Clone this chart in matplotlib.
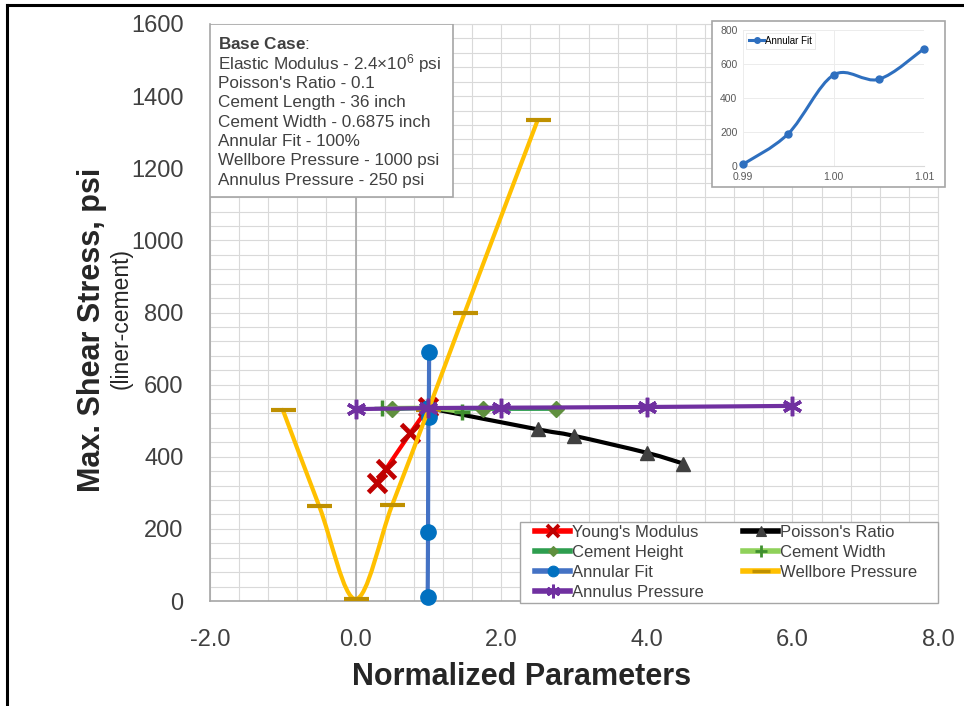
import numpy as np
import matplotlib
matplotlib.use("Agg")
import matplotlib.pyplot as plt
from matplotlib.path import Path
from matplotlib.patches import PathPatch, Rectangle
from matplotlib.lines import Line2D
from matplotlib.ticker import MultipleLocator, FormatStrFormatter

plt.rcParams['font.family'] = ['Liberation Sans', 'DejaVu Sans']
plt.rcParams['mathtext.fontset'] = 'custom'
plt.rcParams['mathtext.rm'] = 'Liberation Sans'
plt.rcParams['mathtext.it'] = 'Liberation Sans:italic'
plt.rcParams['mathtext.bf'] = 'Liberation Sans:bold'

# ---- data: normalized parameter vs. max shear stress (psi) ----
youngs_x = [0.29, 0.42, 0.75, 1.0]
youngs_y = [328, 367, 465, 537]

poisson_x = [1.0, 2.5, 3.0, 4.0, 4.5]
poisson_y = [535, 476, 458, 411, 381]

height_x = [0.5, 1.0, 1.75, 2.75]
height_y = [532, 535, 533, 533]

width_x = [0.364, 1.0, 1.455]
width_y = [535, 535, 524]

fit_x = [0.99, 0.995, 1.0, 1.005, 1.01]
fit_y = [10, 190, 535, 510, 690]

wellbore_x = [-1.0, -0.5, 0.0, 0.5, 1.0, 1.5, 2.5]
wellbore_y = [530, 263, 5, 265, 530, 800, 1333]

annulus_x = [0.0, 1.0, 2.0, 4.0, 6.0]
annulus_y = [532, 535, 536, 538, 541]

series_names = ["Young's Modulus", "Poisson's Ratio", "Cement Height", "Cement Width",
                "Annular Fit", "Wellbore Pressure", "Annulus Pressure"]

base_case_title = r"$\mathbf{Base\ Case}$:"
base_case_lines = [
    r"Elastic Modulus - 2.4$\times$10$^{6}$ psi",
    "Poisson's Ratio - 0.1",
    "Cement Length - 36 inch",
    "Cement Width - 0.6875 inch",
    "Annular Fit - 100%",
    "Wellbore Pressure - 1000 psi",
    "Annulus Pressure - 250 psi",
]

x_ticks = [-2.0, 0.0, 2.0, 4.0, 6.0, 8.0]
y_ticks = [0, 200, 400, 600, 800, 1000, 1200, 1400, 1600]


def smooth_path(x, y):
    """Bezier path through the points (smoothed-line style)."""
    pts = np.column_stack([x, y]).astype(float)
    n = len(pts)
    verts = [pts[0]]
    codes = [Path.MOVETO]
    for i in range(n - 1):
        p0 = pts[max(i - 1, 0)]
        p1 = pts[i]
        p2 = pts[i + 1]
        p3 = pts[min(i + 2, n - 1)]
        c1 = p1 + (p2 - p0) / 6.0
        c2 = p2 - (p3 - p1) / 6.0
        verts += [c1, c2, p2]
        codes += [Path.CURVE4] * 3
    return Path(verts, codes)


W, H = 964, 706
fig = plt.figure(figsize=(W / 100, H / 100), dpi=100)
fig.patch.set_facecolor('white')

ax = fig.add_axes([210 / W, 1 - 601 / H, 728 / W, 577 / H])
ax.set_xlim(-2, 8)
ax.set_ylim(0, 1600)

grid_c = '#d9d9d9'
ax.xaxis.set_major_locator(MultipleLocator(2))
ax.xaxis.set_minor_locator(MultipleLocator(0.4))
ax.yaxis.set_major_locator(MultipleLocator(200))
ax.yaxis.set_minor_locator(MultipleLocator(40))
ax.grid(which='both', color=grid_c, lw=0.8, zorder=0)
ax.set_axisbelow(True)
ax.xaxis.set_major_formatter(FormatStrFormatter('%.1f'))
ax.set_xticks(x_ticks)
ax.set_yticks(y_ticks)
ax.tick_params(which='both', length=0)
ax.tick_params(axis='both', labelsize=17, labelcolor='#404040')
ax.tick_params(axis='y', pad=19)
ax.tick_params(axis='x', pad=20)
for s in ['top', 'right']:
    ax.spines[s].set_color(grid_c)
    ax.spines[s].set_linewidth(0.8)
for s in ['left', 'bottom']:
    ax.spines[s].set_color('#a6a6a6')
    ax.spines[s].set_linewidth(1.2)
ax.axvline(0, color='#a6a6a6', lw=1.2, zorder=1)

styles = [
    dict(x=youngs_x, y=youngs_y, lc='#ff0000', mc='#c00000', marker='x', ms=13, mew=3.5),
    dict(x=poisson_x, y=poisson_y, lc='#000000', mc='#404040', marker='^', ms=10, mew=1),
    dict(x=height_x, y=height_y, lc='#2e9e4f', mc='#5f8f3e', marker='D', ms=8, mew=1),
    dict(x=width_x, y=width_y, lc='#8fd15a', mc='#3f8f2f', marker='+', ms=12, mew=2.5),
    dict(x=fit_x, y=fit_y, lc='#4472c4', mc='#0070c0', marker='o', ms=11, mew=1),
    dict(x=wellbore_x, y=wellbore_y, lc='#ffc000', mc='#bf9000', marker='_', ms=18, mew=3),
    dict(x=annulus_x, y=annulus_y, lc='#7030a0', mc='#7030a0', marker=(6, 2, 0), ms=14, mew=2.5),
]

handles = []
for k, (st, name) in enumerate(zip(styles, series_names)):
    z = 3 + k
    ax.add_patch(PathPatch(smooth_path(st['x'], st['y']), facecolor='none',
                           edgecolor=st['lc'], lw=3, zorder=z, capstyle='round'))
    ax.plot(st['x'], st['y'], ls='none', marker=st['marker'], ms=st['ms'],
            mfc=st['mc'], mec=st['mc'], mew=st['mew'], zorder=z + 0.5, clip_on=False)
    handles.append(Line2D([], [], color=st['lc'], lw=4, marker=st['marker'],
                          ms=st['ms'] * 0.7, mfc=st['mc'], mec=st['mc'],
                          mew=st['mew'] * 0.8, label=name))

# legend frame drawn separately so the side padding can be wider than the top/bottom
ax.add_patch(Rectangle(((520 - 210) / 728, (601 - 603) / 577), 418 / 728, 81 / 577,
                       transform=ax.transAxes, facecolor='white', edgecolor='#a6a6a6',
                       lw=1.0, zorder=19, clip_on=False))
order = [0, 2, 4, 6, 1, 3, 5]
leg = ax.legend([handles[i] for i in order], [series_names[i] for i in order],
                loc='upper left', bbox_to_anchor=(535 / W, 1 - 525 / H),
                bbox_transform=fig.transFigure, ncol=2,
                fontsize=12, frameon=False, borderpad=0, labelspacing=0.3,
                handlelength=2.1, handletextpad=0.1, columnspacing=2.4,
                borderaxespad=0)
for t in leg.get_texts():
    t.set_color('#404040')
leg.set_zorder(20)

# base case description box
ax.add_patch(Rectangle((0.0, (601 - 197) / 577), 243 / 728, 173 / 577,
                       transform=ax.transAxes, facecolor='white',
                       edgecolor='#a6a6a6', lw=1.2, zorder=15))
tx = 218 / W
fig.text(tx, 1 - 44 / H, base_case_title, fontsize=12.3, color='#404040',
         va='center', ha='left', zorder=16)
for i, line in enumerate(base_case_lines):
    fig.text(tx, 1 - (64 + i * 19.4) / H, line, fontsize=12.3, color='#404040',
             va='center', ha='left', zorder=16)

# axis titles
fig.text(522 / W, 1 - 677 / H, "Normalized Parameters", fontsize=22,
         fontweight='bold', color='#262626', ha='center', va='center')
fig.text(92 / W, 1 - 330 / H, "Max. Shear Stress, psi", fontsize=22,
         fontweight='bold', color='#262626', ha='center', va='center', rotation=90)
fig.text(121 / W, 1 - 318 / H, "(liner-cement)", fontsize=16.5,
         color='#262626', ha='center', va='center', rotation=90)

# inset: annular fit detail
fig.patches.append(Rectangle((712 / W, 1 - 187 / H), 233 / W, 166 / H,
                             transform=fig.transFigure, facecolor='white',
                             edgecolor='#a6a6a6', lw=1.2, zorder=5))
axi = fig.add_axes([743 / W, 1 - 166 / H, 181 / W, 136 / H], zorder=6)
axi.set_facecolor('none')
axi.set_xlim(0.99, 1.01)
axi.set_ylim(0, 800)
axi.set_xticks([0.99, 1.00, 1.01])
axi.set_yticks([0, 200, 400, 600, 800])
axi.xaxis.set_major_formatter(FormatStrFormatter('%.2f'))
axi.tick_params(length=0, labelsize=7.5, labelcolor='#595959', pad=4)
axi.grid(color='#ececec', lw=0.7)
for s in axi.spines.values():
    s.set_visible(False)
axi.spines['bottom'].set_visible(True)
axi.spines['bottom'].set_color('#d9d9d9')
axi.add_patch(PathPatch(smooth_path(fit_x, fit_y), facecolor='none',
                        edgecolor='#2e6fbf', lw=2.2, zorder=3))
axi.plot(fit_x, fit_y, ls='none', marker='o', ms=5, color='#2e6fbf',
         zorder=4, clip_on=False)
li = axi.legend([Line2D([], [], color='#2e6fbf', lw=2.2, marker='o', ms=4)],
                ["Annular Fit"], loc='upper left', fontsize=7, frameon=True,
                fancybox=False, edgecolor='#e0e0e0', borderpad=0.3,
                handlelength=1.6, handletextpad=0.1, borderaxespad=0.3)
li.get_frame().set_linewidth(0.6)

# outer frame lines
fig.add_artist(Line2D([7 / W, 1.0], [1 - 5 / H, 1 - 5 / H], color='black', lw=2.2,
                      transform=fig.transFigure))
fig.add_artist(Line2D([7 / W, 7 / W], [0.0, 1 - 5 / H], color='black', lw=2.2,
                      transform=fig.transFigure))

fig.savefig("out.png", dpi=100)
